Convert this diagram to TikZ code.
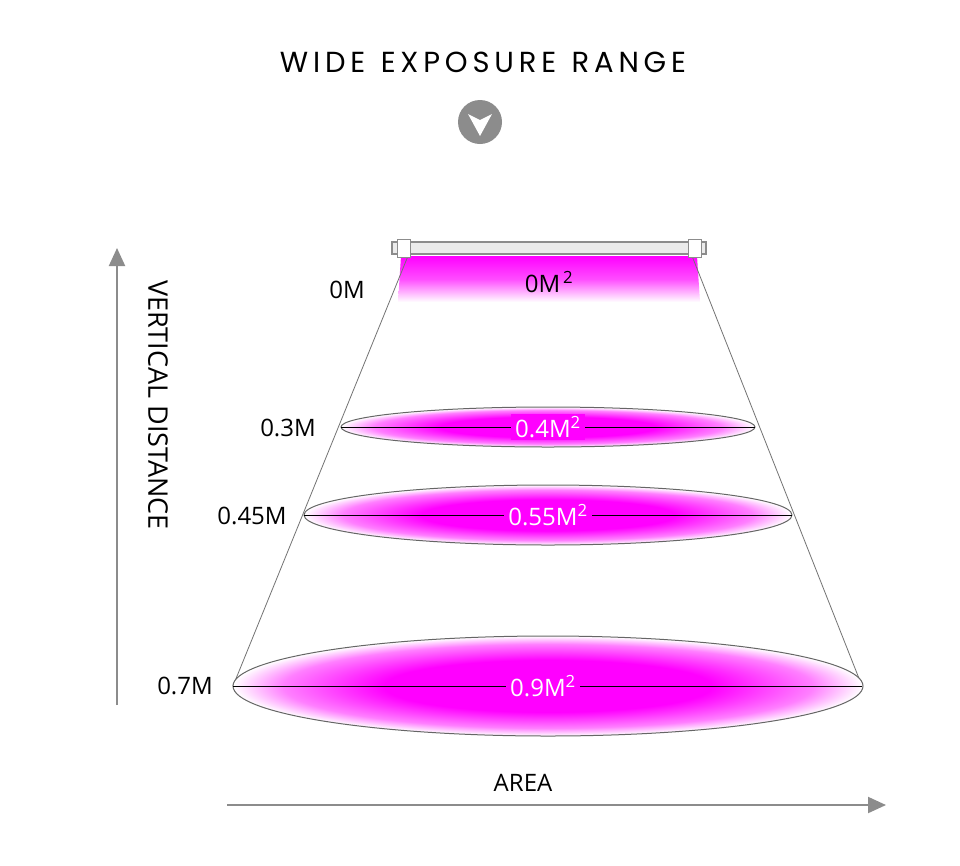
\documentclass[tikz,border=0pt]{standalone}
\usepackage{fontspec}
\setmainfont{Open Sans}
\newfontfamily\titlefont{Poppins}
\usetikzlibrary{arrows.meta}
\definecolor{mag}{HTML}{FF00FF}
\definecolor{arrgray}{HTML}{8C8C8C}
\pgfdeclareradialshading{magshade}{\pgfpoint{0bp}{0bp}}{color(0bp)=(mag);color(13bp)=(mag);color(21bp)=(mag!50!white);color(25bp)=(white);color(50bp)=(white)}
\tikzset{
  lbl/.style={font=\fontsize{24}{26}\selectfont, inner sep=0pt},
  spot/.style={shading=magshade, draw=black!60, line width=1pt},
  axis/.style={draw=arrgray, line width=2pt, -{Triangle[length=18pt,width=16pt]}},
}
\begin{document}
\begin{tikzpicture}[x=1pt,y=-1pt]
\useasboundingbox[fill=white] (0,0) rectangle (960,865);
\node[inner sep=0pt, font=\titlefont\fontsize{29}{30}\selectfont] (title) at (483,62) {W\,I\,D\,E\ \ E\,X\,P\,O\,S\,U\,R\,E\ \ R\,A\,N\,G\,E};
\node[circle, fill=arrgray, minimum size=44pt, inner sep=0pt] (icon) at (480,122) {};
\fill[white] (468,114) -- (480,120) -- (492,114) -- (480,136) -- cycle;
% top band
\shade[top color=mag, bottom color=white, middle color=mag!70!white] (401,256) -- (697,256) -- (700,302) -- (398,302) -- cycle;
% cone
\coordinate (tl) at (408,256); \coordinate (bl) at (233,686);
\coordinate (tr) at (692,256); \coordinate (br) at (862,686);
\draw[black!55, line width=0.8pt] (tl) -- (bl) (tr) -- (br);
% lamp
\foreach \i in {0,...,7}{\draw[black!40, fill=green!10!black!10, line width=0.6pt] (419+\i*36.5,254) arc (180:360:8 and 7) -- cycle;}
\draw[black!45, fill=black!8, line width=1.2pt] (392,242) rectangle (706,254);
\draw[black!45, fill=white, line width=1pt] (397,239) rectangle (410,257);
\draw[black!45, fill=white, line width=1pt] (688,239) rectangle (701,257);
\node[lbl] (a0) at (549,282) {0M$^{\,\mathrm{2}}$};
% ellipses
\path[spot] (548,427) ellipse (207 and 20);
\path[spot] (548,515) ellipse (244 and 30);
\path[spot] (548,686) ellipse (315 and 50);
\draw[black, line width=0.6pt] (341,427) -- (755,427) (304,515) -- (792,515) (233,686) -- (862,686);
\node[lbl, fill=mag, text=white, inner xsep=4pt, inner ysep=2pt] (a1) at (548,427) {0.4M\textsuperscript{2}};
\node[lbl, fill=mag, text=white, inner xsep=4pt, inner ysep=2pt] (a2) at (548,515) {0.55M\textsuperscript{2}};
\node[lbl, fill=mag, text=white, inner xsep=4pt, inner ysep=2pt] (a3) at (543,686) {0.9M\textsuperscript{2}};
\node[lbl] (d0) at (347,290) {0M};
\node[lbl] (d1) at (288,428) {0.3M};
\node[lbl] (d2) at (252,516) {0.45M};
\node[lbl] (d3) at (185,686) {0.7M};
% axes
\coordinate (vs) at (117,705); \coordinate (ve) at (117,248);
\coordinate (hs) at (227,805); \coordinate (he) at (886,805);
\draw[axis] (vs) -- (ve);
\draw[axis] (hs) -- (he);
\node[lbl, rotate=-90, font=\fontsize{27}{28}\selectfont] (vert) at (158,405) {VERTICAL DISTANCE};
\node[lbl] (area) at (523,783) {AREA};
\end{tikzpicture}
\end{document}
